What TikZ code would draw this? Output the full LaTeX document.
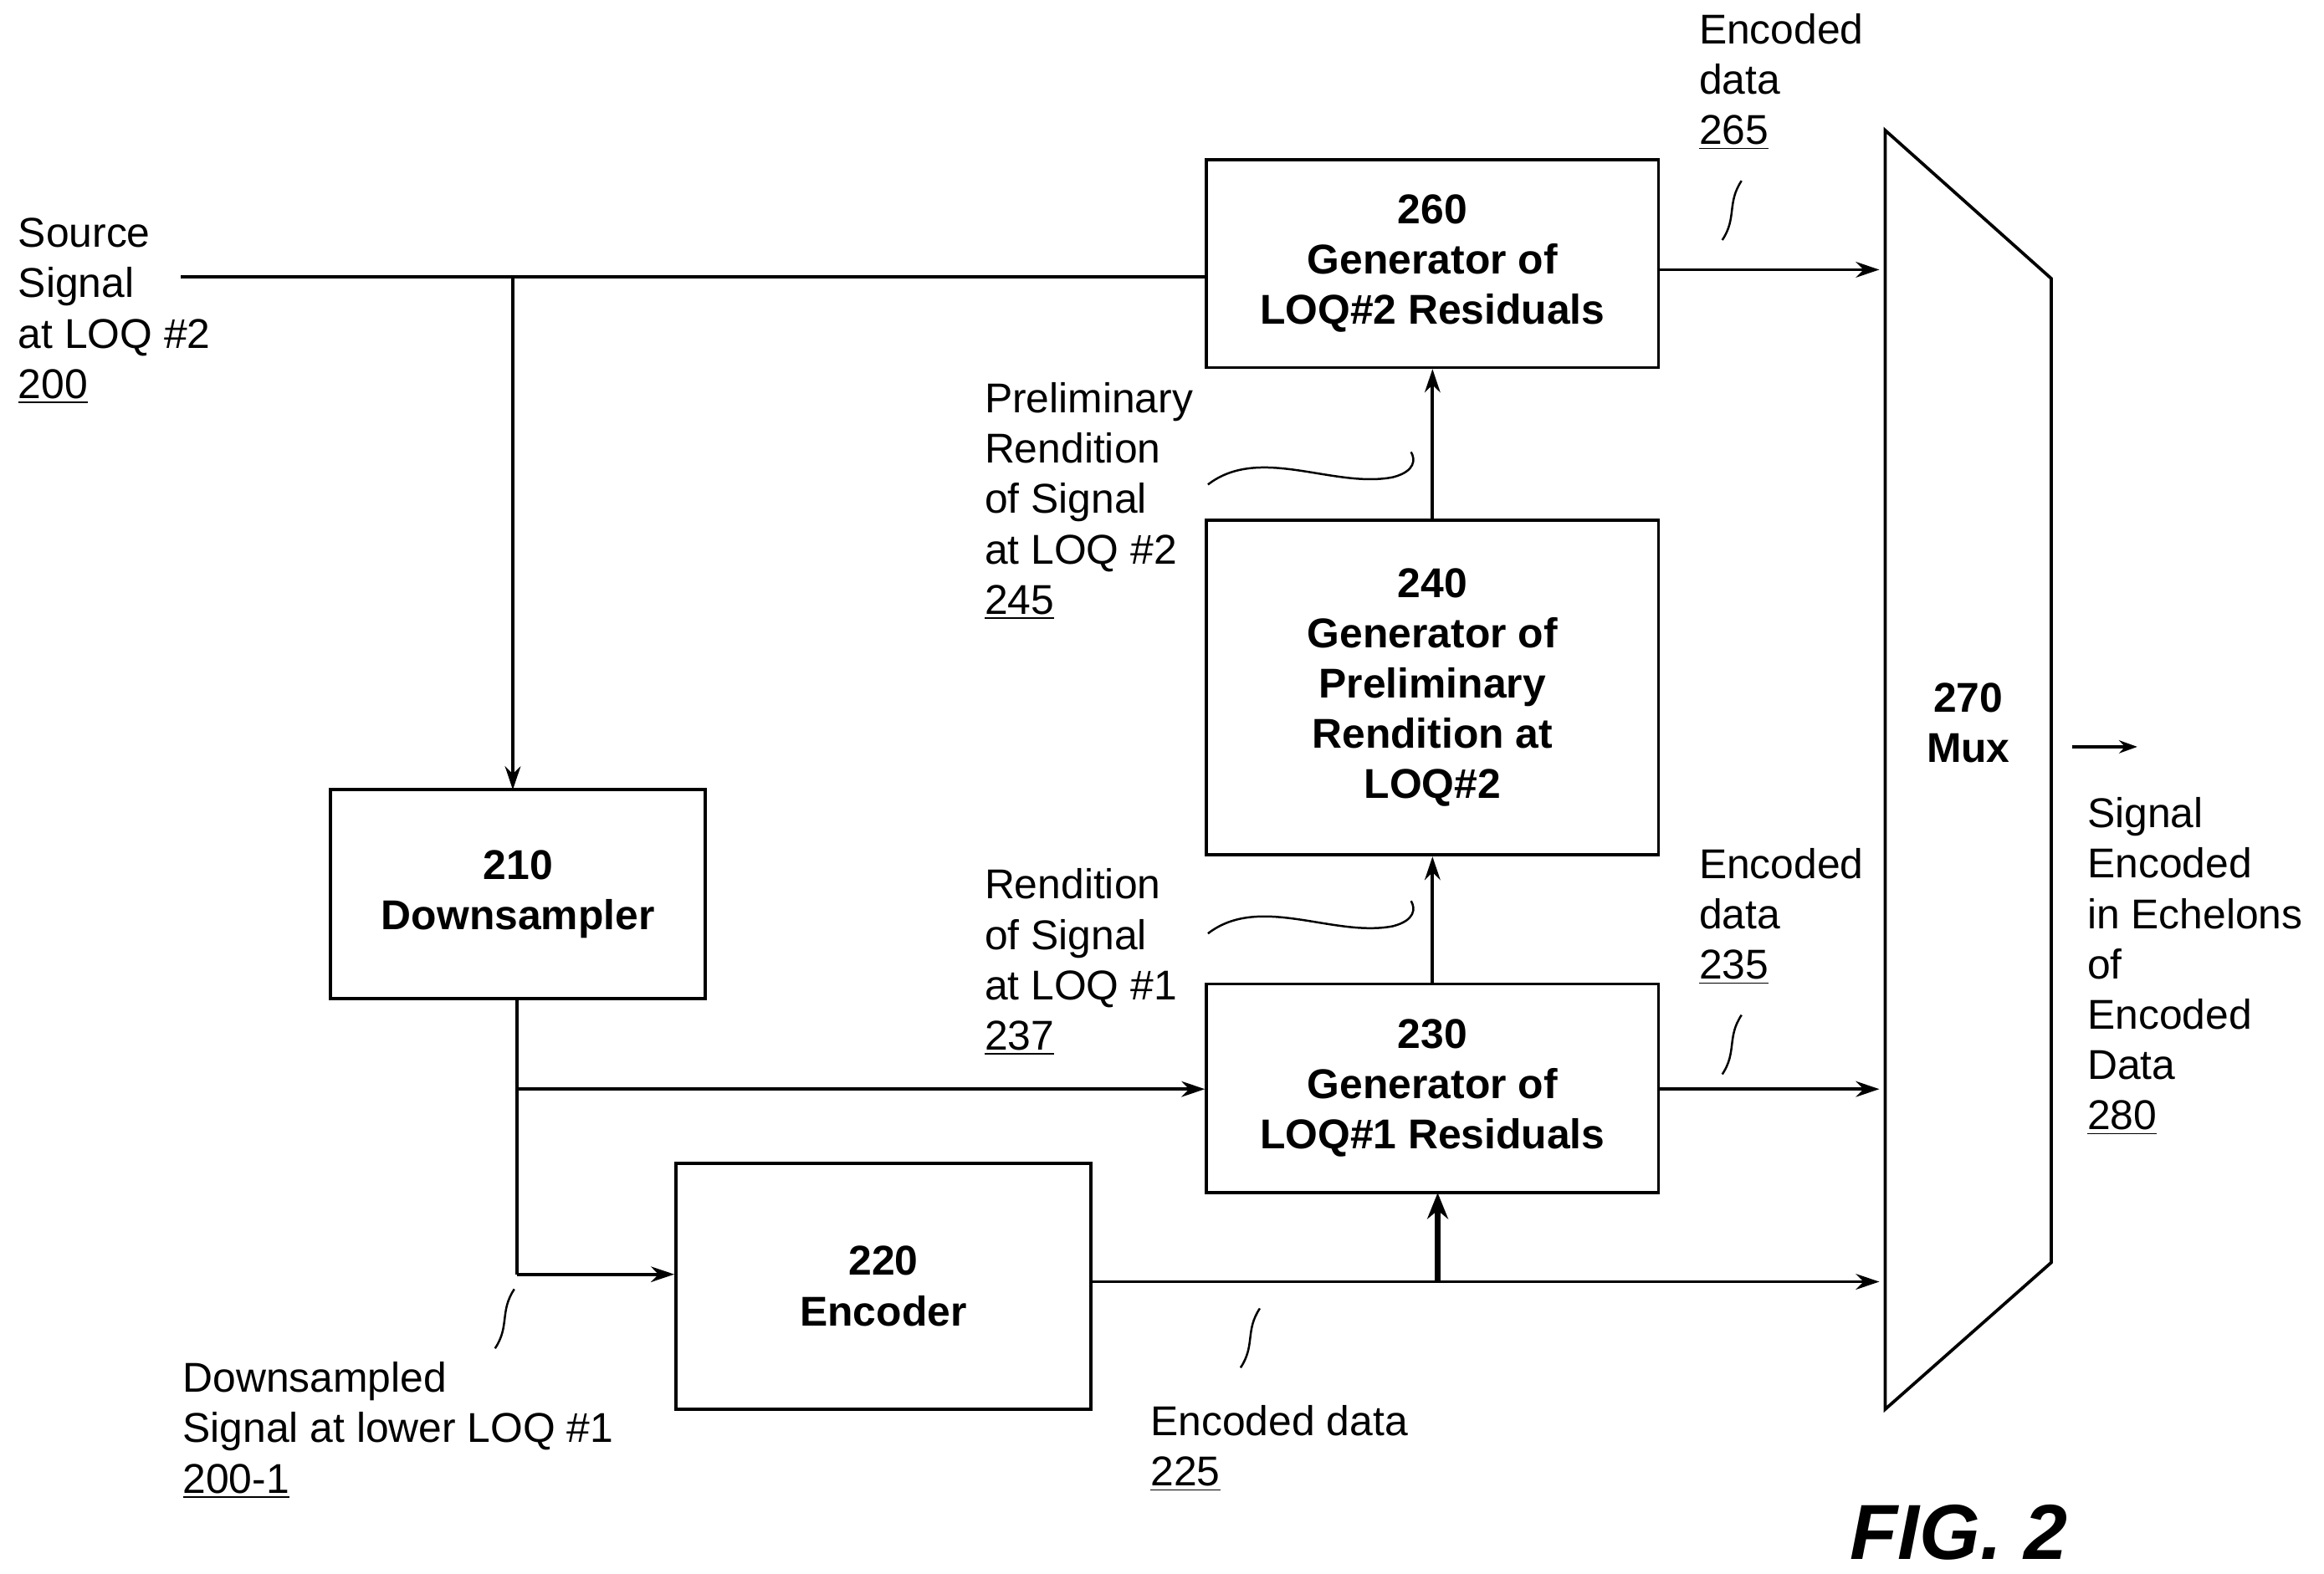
\documentclass[tikz,border=0pt]{standalone}
\usepackage{fontspec}
\setmainfont{Liberation Sans}
\usetikzlibrary{arrows.meta,decorations.pathmorphing}
\begin{document}
\begin{tikzpicture}[x=0.02cm,y=-0.02cm,
  box/.style={draw,line width=1.2pt,font=\fontsize{16}{19.3}\selectfont\bfseries,align=center,inner sep=0pt},
  lab/.style={anchor=north west,align=left,font=\fontsize{16}{19.3}\selectfont,inner sep=0pt},
  ln/.style={line width=1.2pt},
  ar/.style={ln,-{Stealth[length=9pt,width=6pt]}},
  sq/.style={line width=0.8pt}]
\useasboundingbox (0,0) rectangle (1568,1062);
\node[box,minimum width=305*0.02cm,minimum height=140*0.02cm] (b260) at (966.5,178) {260\\Generator of\\LOQ\#2 Residuals};
\node[box,minimum width=305*0.02cm,minimum height=226*0.02cm] (b240) at (966.5,464) {240\\Generator of\\Preliminary\\Rendition at\\LOQ\#2};
\node[box,minimum width=305*0.02cm,minimum height=141*0.02cm] (b230) at (966.5,734.5) {230\\Generator of\\LOQ\#1 Residuals};
\node[box,minimum width=253*0.02cm,minimum height=141*0.02cm] (b210) at (349.5,603.5) {210\\Downsampler};
\node[box,minimum width=280*0.02cm,minimum height=166*0.02cm] (b220) at (596,868) {220\\Encoder};
\draw[ln] (1272,88) -- (1384,188) -- (1384,852) -- (1272,951) -- cycle;
\node[font=\fontsize{16}{19.3}\selectfont\bfseries,align=center] (mux) at (1328,488) {270\\Mux};
\coordinate (s0) at (122,187);
\coordinate (s1) at (346,187);
\draw[ln] (s0) -- (b260.west |- s0);
\draw[ar] (s1) -- (346,533);
\draw[ar] (b260.east |- 0,182) -- (1268,182);
\draw[ar] (b240.north) -- (b260.south);
\draw[ar] (b230.north) -- (b240.south);
\coordinate (d0) at (349,674);
\coordinate (d1) at (349,860);
\coordinate (d2) at (349,735);
\draw[ln] (d0) -- (d1);
\draw[ar] (d1) -- (b220.west |- d1);
\draw[ar] (d2) -- (b230.west |- d2);
\draw[ar] (b220.east |- 0,865) -- (1268,865);
\draw[line width=2.5pt,-{Stealth[length=10pt,width=8pt]}] (970,865) -- (970,805);
\draw[ar] (b230.east |- 0,735) -- (1268,735);
\draw[line width=1pt,-{Stealth[length=7pt,width=5pt]}] (1398,504) -- (1442,504);
% squiggles
\foreach \x/\y in {1175/122,1175/685,850/883,347/870}
  \draw[sq] (\x,\y) .. controls (\x-10,\y+15) and (\x-3,\y+25) .. (\x-13,\y+40);
\draw[sq] (815,327) .. controls (850,300) and (900,330) .. (940,322) .. controls (955,318) and (955,310) .. (952,305);
\draw[sq] (815,630) .. controls (850,603) and (900,633) .. (940,625) .. controls (955,621) and (955,613) .. (952,608);
% labels
\node[lab] at (12,147) {Source\\Signal\\at LOQ \#2\\\underline{200}};
\node[lab] at (1146,9) {Encoded\\data\\\underline{265}};
\node[lab] at (664,258) {Preliminary\\Rendition\\of Signal\\at LOQ \#2\\\underline{245}};
\node[lab] at (664,586) {Rendition\\of Signal\\at LOQ \#1\\\underline{237}};
\node[lab] at (1146,572) {Encoded\\data\\\underline{235}};
\node[lab] at (1408,538) {Signal\\Encoded\\in Echelons\\of\\Encoded\\Data\\\underline{280}};
\node[lab] at (123,919) {Downsampled\\Signal at lower LOQ \#1\\\underline{200-1}};
\node[lab] at (776,948) {Encoded data\\\underline{225}};
\node[anchor=north west,inner sep=0pt,font=\fontsize{30}{36}\selectfont\bfseries\itshape] at (1248,1015) {FIG. 2};
\end{tikzpicture}
\end{document}
